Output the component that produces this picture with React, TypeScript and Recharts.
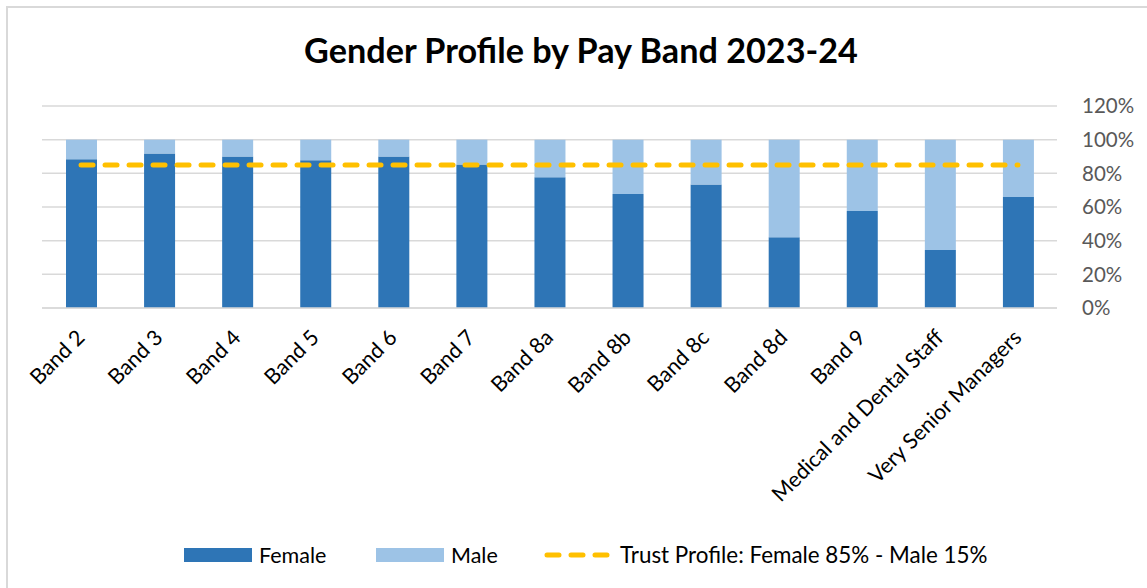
import React from "react";
import { ComposedChart, Bar, Line, XAxis, YAxis, CartesianGrid } from "recharts";

const categories = [
  "Band 2", "Band 3", "Band 4", "Band 5", "Band 6", "Band 7", "Band 8a",
  "Band 8b", "Band 8c", "Band 8d", "Band 9", "Medical and Dental Staff", "Very Senior Managers",
];
const femaleShare = [0.884, 0.918, 0.9, 0.878, 0.9, 0.853, 0.776, 0.677, 0.734, 0.421, 0.576, 0.344, 0.659];
const trustFemale = 0.85;
const yTicks = [0, 0.2, 0.4, 0.6, 0.8, 1.0, 1.2];
const gridValues = [0, 0.1, 0.2, 0.3, 0.4, 0.5, 0.6, 0.7, 0.8, 0.9, 1.0, 1.1, 1.2];

const data = categories.map((c, i) => ({
  name: c,
  female: femaleShare[i],
  male: 1 - femaleShare[i],
  trust: trustFemale,
}));

const FONT = "Lato, 'Open Sans', sans-serif";
const FEMALE = "#2e75b6";
const MALE = "#9dc3e6";
const TRUST = "#ffc000";

const XTick = (props: any) => {
  const { x, y, payload } = props;
  return (
    <g transform={`translate(${x},${y + 18})`}>
      <text
        transform="rotate(-45)"
        textAnchor="end"
        fontSize={21.5}
        fontFamily={FONT}
        fill="#000"
        dy={7}
      >
        {payload.value}
      </text>
    </g>
  );
};

const legendText: React.CSSProperties = { position: "absolute", top: 0, fontSize: 21.5, lineHeight: "26px", color: "#000", whiteSpace: "nowrap" };

export default function App() {
  return (
    <div style={{ position: "fixed", left: 0, top: 0, width: 1147, height: 588, background: "#fff", overflow: "hidden", fontFamily: FONT }}>
      <div style={{ position: "absolute", left: 6, top: 6, width: 1160, height: 600, border: "2px solid #d9d9d9", boxSizing: "border-box" }} />
      <div style={{ position: "absolute", left: 0, top: 28, width: 1162, textAlign: "center", fontSize: 34.2, fontWeight: 700, color: "#000", lineHeight: "44px" }}>
        Gender Profile by Pay Band 2023-24
      </div>
      <div style={{ position: "absolute", left: 0, top: 0 }}>
        <ComposedChart width={1147} height={588} data={data} margin={{ top: 106, right: 0, left: 42, bottom: 0 }}>
          <CartesianGrid vertical={false} stroke="#d9d9d9" strokeWidth={1.5} horizontalValues={gridValues} />
          <XAxis
            dataKey="name"
            height={280}
            interval={0}
            tick={<XTick />}
            tickLine={false}
            axisLine={{ stroke: "#d9d9d9", strokeWidth: 1.5 }}
          />
          <YAxis
            orientation="right"
            domain={[0, 1.2]}
            ticks={yTicks}
            width={90}
            tickLine={false}
            axisLine={false}
            tickMargin={19}
            tickFormatter={(v: number) => `${Math.round(v * 100)}%`}
            tick={{ fontSize: 20.5, fill: "#595959", fontFamily: FONT }}
          />
          <Bar dataKey="female" stackId="a" fill={FEMALE} barSize={31} isAnimationActive={false} />
          <Bar dataKey="male" stackId="a" fill={MALE} barSize={31} isAnimationActive={false} />
          <Line
            dataKey="trust"
            stroke={TRUST}
            strokeWidth={5}
            strokeDasharray="12 12"
            strokeLinecap="round"
            dot={false}
            activeDot={false}
            isAnimationActive={false}
          />
        </ComposedChart>
      </div>
      <div style={{ position: "absolute", left: 0, top: 542, width: 1147, height: 26 }}>
        <span style={{ position: "absolute", left: 184, top: 6, width: 68, height: 14, background: FEMALE }} />
        <span style={{ ...legendText, left: 259 }}>Female</span>
        <span style={{ position: "absolute", left: 376, top: 6, width: 68, height: 14, background: MALE }} />
        <span style={{ ...legendText, left: 451 }}>Male</span>
        <svg width={70} height={14} style={{ position: "absolute", left: 544, top: 6 }}>
          <line x1={3} y1={7} x2={66} y2={7} stroke={TRUST} strokeWidth={5} strokeDasharray="12 12" strokeLinecap="round" />
        </svg>
        <span style={{ ...legendText, left: 620, fontSize: 22.4 }}>Trust Profile: Female 85% - Male 15%</span>
      </div>
    </div>
  );
}
